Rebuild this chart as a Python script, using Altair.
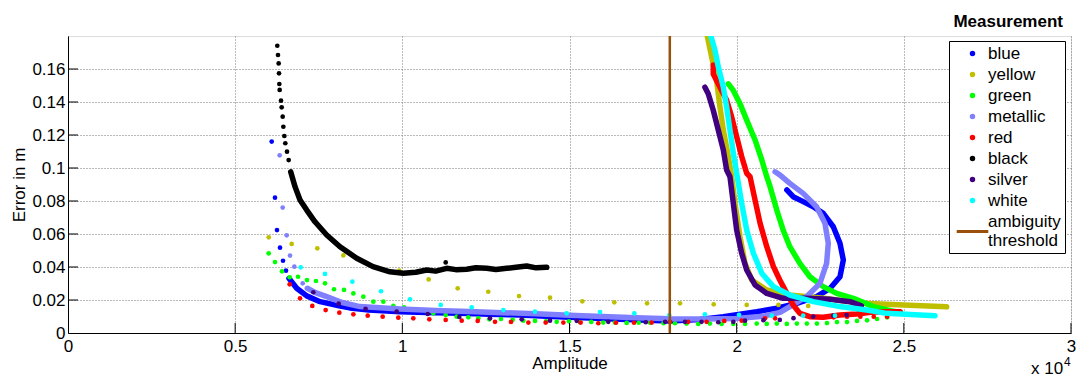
import altair as alt
import pandas as pd

FONT = "Liberation Sans"
NAMES = ["blue", "yellow", "green", "metallic", "red", "black", "silver", "white", "ambiguity threshold"]
COLORS = ["#0000FF", "#BFBF00", "#00FF00", "#8080FF", "#FF0000", "#000000", "#400080", "#00FFFF", "#99500A"]

# ---- blue ----
blue_sx = [6093, 6191, 6251, 6341, 6431, 6520]
blue_sy = [0.116, 0.082, 0.0624, 0.0517, 0.0438, 0.0378]
blue_dx = [6610, 6840, 7140, 7540, 8140, 8430, 9000, 9930, 11000, 11725, 12600, 13520, 14300, 15015, 15800,
           16510, 17300, 18005, 18900, 19600, 20600, 21200, 21800, 22390, 22790, 23090, 23190, 23090, 22890,
           22590, 22290, 21990, 21690, 21500]
blue_dy = [0.0331, 0.0271, 0.0225, 0.019, 0.0164, 0.0152, 0.014, 0.0129, 0.0123, 0.012, 0.0114, 0.0109, 0.0102,
           0.0095, 0.0089, 0.0083, 0.0077, 0.0073, 0.0082, 0.0099, 0.0129, 0.015, 0.018, 0.022, 0.027, 0.0341,
           0.0442, 0.0544, 0.0644, 0.0725, 0.0765, 0.0796, 0.0826, 0.0867]

# ---- yellow ----
yellow_sx = [6003, 6690, 7457, 8236, 9910, 10788, 11655, 12570, 13490, 14417, 15383, 16340, 17320, 18305,
             19313, 20300, 21250, 22140, 22970]
yellow_sy = [0.058, 0.054, 0.0513, 0.047, 0.0378, 0.0325, 0.0271, 0.025, 0.0224, 0.0214, 0.0192, 0.0186,
             0.018, 0.018, 0.0174, 0.017, 0.017, 0.0164, 0.0164]
yellow_dx = [19100, 19250, 19400, 19500, 19600, 19750, 19850, 19950, 20100, 20250, 20450, 20900, 21590,
             22590, 23790, 24990, 26280]
yellow_dy = [0.182, 0.1675, 0.153, 0.137, 0.123, 0.107, 0.0947, 0.0786, 0.0584, 0.0422, 0.0321, 0.0261,
             0.023, 0.021, 0.018, 0.017, 0.0159]

# ---- green ----
green_sx = [6003, 6191, 6401, 6630, 6880, 7148, 7418, 7687, 7956, 8255, 8535, 8834, 9133, 9432, 9731, 10050,
            10358, 10747, 10927, 11297, 11626, 11974, 12273, 12602, 12951, 13300, 13619, 13968, 14300, 14617,
            14985, 15314, 15651, 16010, 16360, 16710, 17070, 17410, 17810, 18155, 18500, 18850, 19200, 19550,
            19900, 20250, 20600, 20900, 21200, 21500, 21800, 22100, 22400, 22700, 23000, 23300, 23600, 23900,
            24200, 24500]
green_sy = [0.0483, 0.043, 0.0374, 0.0338, 0.0341, 0.0321, 0.0315, 0.0301, 0.0265, 0.0261, 0.024, 0.022,
            0.019, 0.019, 0.0164, 0.0155, 0.0144, 0.0129, 0.0119, 0.0109, 0.0099, 0.0095, 0.0089, 0.0083,
            0.0085, 0.008, 0.0075, 0.0073, 0.007, 0.0068, 0.0071, 0.0065, 0.0067, 0.0063, 0.0063, 0.0061,
            0.0062, 0.0062, 0.0059, 0.0059, 0.0057, 0.0055, 0.0057, 0.0055, 0.0055, 0.0055, 0.0057, 0.0055,
            0.0057, 0.0055, 0.0057, 0.0057, 0.0057, 0.006, 0.0066, 0.0066, 0.0073, 0.0077, 0.0085, 0.0095]
green_dx = [19750, 19900, 20100, 20300, 20550, 20750, 20900, 21000, 21200, 21390, 21590, 21890, 22190, 22590,
            22990, 23490, 24090, 24600, 24900]
green_dy = [0.151, 0.147, 0.139, 0.129, 0.117, 0.105, 0.0947, 0.0887, 0.0745, 0.0624, 0.0523, 0.0422, 0.0341,
            0.0281, 0.024, 0.021, 0.016, 0.0135, 0.0125]

# ---- metallic ----
metallic_sx = [6331, 6421, 6541, 6640, 6770, 7020]
metallic_sy = [0.1077, 0.076, 0.0592, 0.0469, 0.0402, 0.0301]
metallic_dx = [7158, 7400, 7738, 8200, 8734, 9930, 11000, 12000, 13000, 14000, 15000, 16000, 17000, 18000,
               19000, 20000, 20800, 21300, 21590, 22090, 22490, 22690, 22740, 22640, 22390, 21990, 21590,
               21300, 21150]
metallic_dy = [0.0271, 0.0245, 0.022, 0.0185, 0.016, 0.0146, 0.0136, 0.013, 0.0123, 0.0117, 0.0108, 0.01,
               0.0092, 0.0086, 0.0085, 0.0088, 0.0102, 0.0125, 0.016, 0.022, 0.0301, 0.0422, 0.0544, 0.0665,
               0.0765, 0.0846, 0.0907, 0.0957, 0.0977]

# ---- red ----
red_sx = [6630, 6940, 7307, 7707, 8116, 8535, 8964, 9412, 9880, 10328, 10807, 11297, 11776, 12254, 12772,
          13250, 13769, 14288, 14816, 15333, 15862, 16390, 16929, 17458, 18005, 18550, 19100, 19630, 20150,
          20850, 21150, 22900, 23300, 23700, 24100, 24500]
red_sy = [0.0295, 0.021, 0.0164, 0.0139, 0.0123, 0.0113, 0.0105, 0.0099, 0.0093, 0.0089, 0.0083, 0.0079,
          0.0075, 0.0073, 0.0068, 0.0067, 0.0063, 0.0063, 0.0063, 0.0063, 0.0059, 0.0062, 0.0062, 0.0063,
          0.0068, 0.0068, 0.0068, 0.0073, 0.0075, 0.0089, 0.0089, 0.0095, 0.0099, 0.0099, 0.0099, 0.0099]
red_dx = [19300, 19300, 19500, 19700, 19850, 20000, 20150, 20300, 20400, 20550, 20700, 20900, 21100, 21290,
          21500, 21690, 21890, 22190, 22590, 23090, 23590, 24000, 24490, 24890]
red_dy = [0.1624, 0.157, 0.149, 0.141, 0.131, 0.119, 0.107, 0.0968, 0.0947, 0.0806, 0.0665, 0.0523, 0.0402,
          0.0321, 0.024, 0.017, 0.0119, 0.0099, 0.0095, 0.0109, 0.0115, 0.0125, 0.0129, 0.0129]

# ---- black ----
black_sx = [6260, 6281, 6301, 6311, 6321, 6331, 6371, 6391, 6421, 6441, 6471, 6500, 6550, 6600, 11297]
black_sy = [0.1741, 0.1685, 0.1634, 0.1574, 0.1509, 0.1473, 0.1408, 0.1368, 0.1311, 0.125, 0.1194, 0.115,
            0.1099, 0.1048, 0.0428]
black_dx = [6661, 6790, 6940, 7140, 7388, 7738, 8136, 8635, 9123, 9631, 10029, 10400, 10729, 11000, 11327,
            11600, 11925, 12200, 12523, 12800, 13121, 13400, 13720, 14000, 14318]
black_dy = [0.0977, 0.0887, 0.0806, 0.0745, 0.0674, 0.0594, 0.0523, 0.0453, 0.0402, 0.0371, 0.0362, 0.0368,
            0.0382, 0.0375, 0.0392, 0.0384, 0.0386, 0.0395, 0.0392, 0.0385, 0.0392, 0.0398, 0.0406, 0.0395,
            0.0398]

# ---- silver ----
silver_sx = [7338, 8096, 8900, 9830, 10758, 11704, 12622, 13570, 14417, 15215, 16160, 17280, 17860, 18455,
             18950, 19450, 19900, 20250, 20800, 21290, 21700, 22290, 22890, 23290]
silver_sy = [0.0247, 0.0178, 0.0147, 0.0129, 0.0115, 0.0097, 0.0089, 0.0083, 0.0075, 0.0074, 0.0068, 0.0065,
             0.0068, 0.0068, 0.0068, 0.0065, 0.0068, 0.0075, 0.0078, 0.0079, 0.009, 0.0099, 0.0105, 0.0109]
silver_dx = [19050, 19150, 19300, 19450, 19600, 19700, 19800, 19900, 20000, 20150, 20300, 20550, 20900,
             21390, 22090, 22790, 23390, 23730]
silver_dy = [0.149, 0.145, 0.135, 0.123, 0.111, 0.0988, 0.0947, 0.0786, 0.0624, 0.0483, 0.0382, 0.0291,
             0.024, 0.021, 0.021, 0.0204, 0.019, 0.0165]

# ---- white ----
white_sx = [6960, 7687, 8505, 9362, 10229, 11148, 12075, 13021, 13968, 14916, 15912, 16939, 17986, 19050,
            20070, 21050, 21990, 22940]
white_sy = [0.0398, 0.0358, 0.0311, 0.0253, 0.0204, 0.017, 0.0156, 0.0139, 0.0129, 0.0119, 0.0127, 0.0119,
            0.0109, 0.0113, 0.011, 0.0105, 0.0105, 0.0105]
white_dx = [19200, 19350, 19450, 19600, 19700, 19800, 19900, 20000, 20150, 20300, 20500, 20750, 21100, 21590,
            22290, 23090, 23890, 24490, 25930]
white_dy = [0.182, 0.1715, 0.1614, 0.149, 0.137, 0.123, 0.109, 0.0968, 0.0786, 0.0624, 0.0483, 0.0362,
            0.0281, 0.023, 0.019, 0.016, 0.0139, 0.0119, 0.0105]

threshold_x = [18000]

x_ticks = [0, 5000, 10000, 15000, 20000, 25000, 30000]
y_ticks = [0, 0.02, 0.04, 0.06, 0.08, 0.1, 0.12, 0.14, 0.16]

SERIES = {
    "blue": (blue_sx, blue_sy, blue_dx, blue_dy),
    "yellow": (yellow_sx, yellow_sy, yellow_dx, yellow_dy),
    "green": (green_sx, green_sy, green_dx, green_dy),
    "metallic": (metallic_sx, metallic_sy, metallic_dx, metallic_dy),
    "red": (red_sx, red_sy, red_dx, red_dy),
    "black": (black_sx, black_sy, black_dx, black_dy),
    "silver": (silver_sx, silver_sy, silver_dx, silver_dy),
    "white": (white_sx, white_sy, white_dx, white_dy),
}

W, H = 1003, 297

xscale = alt.Scale(domain=[0, 30000], nice=False, zero=False)
yscale = alt.Scale(domain=[0, 0.18], nice=False, zero=False)

xaxis = alt.Axis(values=x_ticks, labelExpr="datum.value / 10000", title="Amplitude", grid=True,
                 gridDash=[1, 2], gridColor="#777777", tickSize=0, labelPadding=5, titlePadding=1,
                 labelFontSize=17, titleFontSize=17, titleFontWeight="normal", labelFont=FONT, titleFont=FONT,
                 labelColor="black", titleColor="black", domainColor="black", labelFlush=False,
                 labelOverlap=False)
yaxis = alt.Axis(values=y_ticks, format="~g", title="Error in m", grid=True, gridDash=[1, 2],
                 gridColor="#777777", tickSize=0, labelPadding=3, titlePadding=3, labelFontSize=17,
                 titleFontSize=17, titleFontWeight="normal", labelFont=FONT, titleFont=FONT,
                 labelColor="black", titleColor="black", domainColor="black", labelFlush=False,
                 labelOverlap=False)

X = alt.X("x:Q", scale=xscale, axis=xaxis)
Y = alt.Y("y:Q", scale=yscale, axis=yaxis)

IS_T = "datum.value === 'ambiguity threshold'"
legend = alt.Legend(
    title=None, orient="none", legendX=881, legendY=5, strokeColor="black", fillColor="white",
    padding=4, labelFontSize=17, labelFont=FONT, labelColor="black", labelLimit=200,
    symbolSize=6, symbolOffset=11, labelOffset=7, rowPadding=3,
    symbolType={"expr": IS_T + " ? 'M-12.9,8.2L12.9,8.2' : 'circle'"},
    symbolStrokeWidth=3,
    symbolStrokeColor={"expr": "scale('color', datum.value)"},
    symbolFillColor={"expr": "scale('color', datum.value)"},
    symbolOpacity=1,
    labelExpr="datum.label === 'ambiguity threshold' ? ['ambiguity', 'threshold'] : datum.label",
)
COLOR = alt.Color("s:N", scale=alt.Scale(domain=NAMES, range=COLORS), legend=legend)

layers = []
for name in NAMES[:-1]:
    sx, sy, dx, dy = SERIES[name]
    ddf = pd.DataFrame({"x": dx, "y": dy, "s": name, "i": list(range(len(dx)))})
    layers.append(
        alt.Chart(ddf).mark_line(strokeWidth=5.5, strokeCap="round", strokeJoin="round", clip=True)
        .encode(x=X, y=Y, color=COLOR, order="i:Q")
    )
    sdf = pd.DataFrame({"x": sx, "y": sy, "s": name})
    layers.append(
        alt.Chart(sdf).mark_circle(size=22, opacity=1, clip=True).encode(x=X, y=Y, color=COLOR)
    )

tdf = pd.DataFrame({"x": threshold_x, "s": ["ambiguity threshold"]})
layers.append(alt.Chart(tdf).mark_rule(strokeWidth=2.5).encode(x=X, color=COLOR))

# inward tick marks (MATLAB style)
xt = pd.DataFrame({"x": x_ticks[1:]})
layers.append(alt.Chart(xt).mark_rule(color="black", strokeWidth=1)
              .encode(x=X, y=alt.value(H), y2=alt.value(H - 10)))
yt = pd.DataFrame({"y": y_ticks[1:]})
layers.append(alt.Chart(yt).mark_rule(color="black", strokeWidth=1)
              .encode(y=Y, x=alt.value(0), x2=alt.value(10)))

# exponent note
layers.append(alt.Chart(pd.DataFrame({"t": ["x 10"]})).mark_text(
    align="left", baseline="alphabetic", fontSize=17, font=FONT, color="black")
    .encode(text="t:N", x=alt.value(1031 - 68), y=alt.value(374 - 36)))
layers.append(alt.Chart(pd.DataFrame({"t": ["4"]})).mark_text(
    align="left", baseline="alphabetic", fontSize=12, font=FONT, color="black")
    .encode(text="t:N", x=alt.value(1064 - 68), y=alt.value(366 - 36)))

chart = (
    alt.layer(*layers)
    .properties(
        width=W, height=H,
        autosize=alt.AutoSizeParams(type="none"),
        padding={"left": 68, "top": 36, "right": 5, "bottom": 45},
        title=alt.TitleParams("Measurement", anchor="end", frame="group", fontSize=17, fontWeight="bold",
                              font=FONT, color="black", dx=-8, offset=4),
    )
    .configure_view(stroke=None)
    .configure(font=FONT)
)

chart.save("out.html", embed_options={"renderer": "svg", "actions": False})
